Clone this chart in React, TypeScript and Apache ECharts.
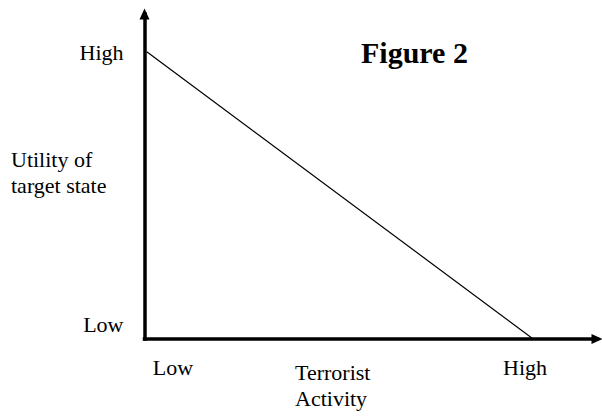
import React, { useEffect, useRef } from "react";
import * as echarts from "echarts";

// Line: utility of target state vs terrorist activity (axis units 0..100)
const activity = [0.5, 85.9];
const utility = [88.4, 0];

const xTickValues = [6.3, 84.1];
const xTickLabels = ["Low", "High"];
const yTickValues = [4.6, 88.2];
const yTickLabels = ["Low", "High"];

const xTitle = ["Terrorist", "Activity"];
const yTitle = ["Utility of", "target state"];
const figureTitle = "Figure 2";

const FONT = "Liberation Serif";

function labelFor(values: number[], labels: string[], v: number): string {
  let best = 0;
  for (let i = 1; i < values.length; i++) {
    if (Math.abs(values[i] - v) < Math.abs(values[best] - v)) best = i;
  }
  return labels[best];
}

export default function App() {
  const ref = useRef<HTMLDivElement>(null);
  useEffect(() => {
    document.body.style.margin = "0";
    if (!ref.current) return;
    const chart = echarts.init(ref.current, null, { renderer: "svg" });
    const axisLineStyle = { color: "#000", width: 3.5, cap: "square" as const };
    const textStyle = (text: string, size: number, weight: string, lh: number) => ({
      text,
      fontFamily: FONT,
      fontSize: size,
      fontWeight: weight,
      lineHeight: lh,
      fill: "#000",
    });
    chart.setOption({
      animation: false,
      backgroundColor: "#fff",
      grid: { left: 144.5, top: 14, right: 5, bottom: 79, containLabel: false },
      xAxis: {
        type: "value",
        min: 0,
        max: 100,
        splitLine: { show: false },
        axisTick: { show: false },
        axisLine: {
          show: true,
          onZero: false,
          symbol: ["none", "triangle"],
          symbolSize: [10, 11],
          lineStyle: axisLineStyle,
        },
        axisLabel: {
          customValues: xTickValues,
          formatter: (v: number) => labelFor(xTickValues, xTickLabels, v),
          color: "#000",
          fontFamily: FONT,
          fontSize: 22,
          margin: 17,
        },
      },
      yAxis: {
        type: "value",
        min: 0,
        max: 100,
        splitLine: { show: false },
        axisTick: { show: false },
        axisLine: {
          show: true,
          onZero: false,
          symbol: ["none", "triangle"],
          symbolSize: [10, 11],
          lineStyle: axisLineStyle,
        },
        axisLabel: {
          customValues: yTickValues,
          formatter: (v: number) => labelFor(yTickValues, yTickLabels, v),
          color: "#000",
          fontFamily: FONT,
          fontSize: 22,
          margin: 21,
        },
      },
      series: [
        {
          type: "line",
          data: activity.map((x, i) => [x, utility[i]]),
          showSymbol: false,
          symbol: "none",
          lineStyle: { color: "#000", width: 1.2 },
          clip: false,
          z: 1,
        },
      ],
      graphic: [
        { type: "text", left: 11, top: 146, style: textStyle(yTitle[0], 22, "normal", 26) },
        { type: "text", left: 11, top: 172, style: textStyle(yTitle[1], 22, "normal", 26) },
        { type: "text", left: 295, top: 361, style: textStyle(xTitle[0], 22, "normal", 22) },
        { type: "text", left: 295, top: 387, style: textStyle(xTitle[1], 22, "normal", 22) },
        { type: "text", left: 361, top: 37, style: textStyle(figureTitle, 30, "bold", 30) },
      ],
    });
    return () => chart.dispose();
  }, []);
  return <div ref={ref} style={{ width: 602, height: 418 }} />;
}
